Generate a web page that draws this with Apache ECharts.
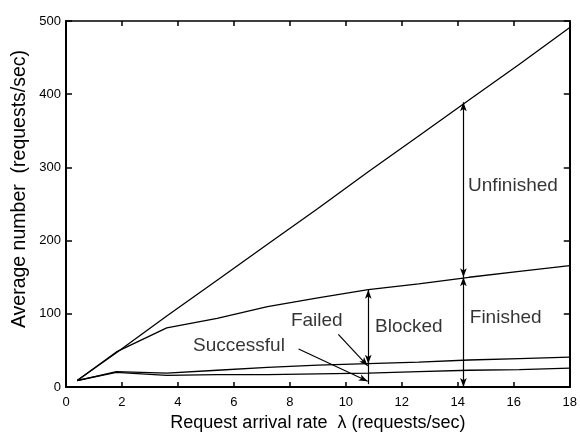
<!DOCTYPE html>
<html>
<head>
<meta charset="utf-8">
<script src="https://cdn.jsdelivr.net/npm/echarts@6/dist/echarts.min.js"></script>
<style>html,body{margin:0;padding:0;background:#fff}#c{width:580px;height:437px}</style>
</head>
<body>
<div id="c"></div>
<script>
// Request arrival rate (requests/sec)
var lambdas = [0.4, 1.8, 3.6, 5.4, 7.2, 9.0, 10.8, 12.6, 14.4, 16.2, 18];
// Average number curves (top to bottom)
var totalReq   = [9, 47, 97, 146, 195, 244, 294, 343, 392, 441, 491];
var finished   = [9, 48, 81, 94, 110, 122, 133, 141, 150, 158, 166];
var failedTop  = [9, 21, 19, 23, 27, 30, 32, 34, 37, 39, 41];
var successful = [9, 20, 16, 17, 17, 18, 19, 21, 23, 24, 26];

var xTicks = [0, 2, 4, 6, 8, 10, 12, 14, 16, 18];
var yTicks = [0, 100, 200, 300, 400, 500];

// arrows: [x1, y1, x2, y2, headAtStart, headAtEnd]
var arrows = [
  [14.2, 389, 14.2, 150, 1, 1],   // Unfinished
  [14.2, 150, 14.2, 0, 1, 1],     // Finished
  [10.8, 133, 10.8, 32, 1, 1],    // Blocked
  [10.8, 32, 10.8, 4, 0, 0],      // continuation
  [9.73, 72, 10.78, 29, 0, 1],    // Failed pointer
  [8.31, 52, 10.78, 8, 0, 1]      // Successful pointer
];
// annotation texts: [text, x, y]
var notes = [
  ['Unfinished', 15.97, 275],
  ['Finished', 15.71, 95],
  ['Blocked', 12.25, 83],
  ['Failed', 8.96, 91],
  ['Successful', 6.18, 56]
];

function pairs(ys){ return lambdas.map(function(x,i){ return [x, ys[i]]; }); }

var FONT = 'Liberation Sans, Arial, Helvetica, sans-serif';
var lineStyle = {color:'#000', width:1.3};
function lineSeries(name, ys){
  return {type:'line', name:name, data:pairs(ys), symbol:'none', lineStyle:lineStyle,
          silent:true, animation:false, z:3};
}

var markLines = arrows.map(function(a){
  return [
    {coord:[a[0], a[1]], symbol: a[4] ? 'arrow' : 'none'},
    {coord:[a[2], a[3]], symbol: a[5] ? 'arrow' : 'none'}
  ];
});

var chart = echarts.init(document.getElementById('c'), null, {renderer:'canvas'});
var axisCommon = {
  axisLine:{show:true, onZero:false, lineStyle:{color:'#000', width:2}},
  splitLine:{show:false}
};
chart.setOption({
  animation:false,
  backgroundColor:'#fff',
  grid:{left:66, right:7, top:21, bottom:39, containLabel:false},
  xAxis:[
    Object.assign({type:'value', min:0, max:18, interval:2, position:'bottom',
      axisTick:{show:true, inside:true, length:5, lineStyle:{color:'#000', width:1.5}},
      axisLabel:{color:'#000', fontSize:13, fontFamily:FONT, margin:9,
        formatter:function(v){ return xTicks.indexOf(v) >= 0 ? String(v) : ''; }},
      name:'Request arrival rate  \u03bb (requests/sec)', nameLocation:'middle', nameGap:19,
      nameTextStyle:{color:'#000', fontSize:18, fontFamily:FONT}
    }, axisCommon),
    Object.assign({type:'value', min:0, max:18, interval:2, position:'top',
      axisTick:{show:true, inside:true, length:5, lineStyle:{color:'#000', width:1.5}},
      axisLabel:{show:false}
    }, axisCommon, {axisLine:{show:true, onZero:false, lineStyle:{color:'#000', width:1.6}}})
  ],
  yAxis:[
    Object.assign({type:'value', min:0, max:500, interval:100, position:'left',
      axisTick:{show:true, inside:true, length:6, lineStyle:{color:'#000', width:1.5}},
      axisLabel:{color:'#000', fontSize:13, fontFamily:FONT, margin:5,
        formatter:function(v){ return yTicks.indexOf(v) >= 0 ? String(v) : ''; }}
    }, axisCommon),
    Object.assign({type:'value', min:0, max:500, interval:100, position:'right',
      axisTick:{show:true, inside:true, length:6, lineStyle:{color:'#000', width:1.5}},
      axisLabel:{show:false}
    }, axisCommon)
  ],
  series:[
    lineSeries('Total', totalReq),
    lineSeries('Finished', finished),
    lineSeries('FailedTop', failedTop),
    Object.assign(lineSeries('Successful', successful), {
      markLine:{
        silent:true, animation:false,
        symbolSize:[5, 9],
        lineStyle:{color:'#000', width:1.2, type:'solid'},
        label:{show:false},
        emphasis:{disabled:true},
        data:markLines
      }
    }),
    {type:'scatter', silent:true, animation:false, symbolSize:0,
     data:notes.map(function(n){ return {name:n[0], value:[n[1], n[2]]}; }),
     label:{show:true, position:'inside', color:'#000', fontSize:19, fontFamily:FONT,
       formatter:function(p){ return p.name; }},
     z:5}
  ],
  graphic:[{
    type:'text', x:20, y:189, rotation:Math.PI/2,
    style:{text:'Average number  (requests/sec)', fill:'#000', fontSize:19.5, fontFamily:FONT,
      align:'center', verticalAlign:'middle'}
  }]
});
</script>
</body>
</html>
